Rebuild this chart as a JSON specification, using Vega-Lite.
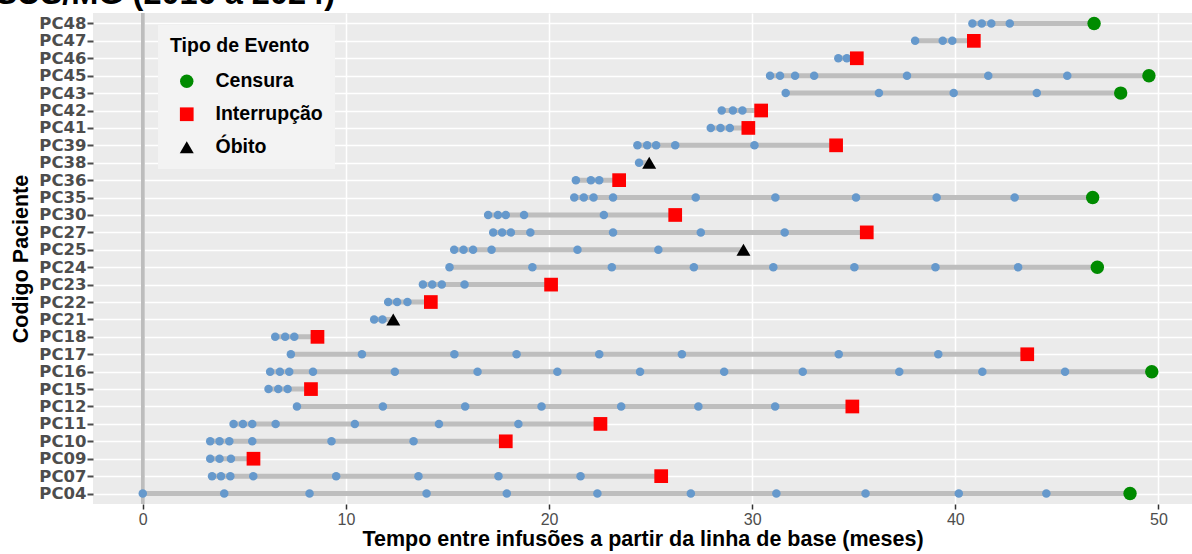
{
  "$schema": "https://vega.github.io/schema/vega-lite/v6.json",
  "width": 1099,
  "height": 491,
  "autosize": {"type": "none"},
  "padding": {"left": 93, "top": 13, "right": 0, "bottom": 50},
  "background": "white",
  "title": {
    "text": "SUS/MG (2016 a 2024)",
    "anchor": "end",
    "frame": "group",
    "dx": -857,
    "offset": 0,
    "dy": 25,
    "baseline": "alphabetic",
    "font": "Liberation Sans",
    "fontSize": 32.5,
    "fontWeight": "bold",
    "color": "#000000"
  },
  "data": {
    "values": [
      {"paciente": "PC48", "tempo": 40.84, "evento": "Infusão"},
      {"paciente": "PC48", "tempo": 41.30, "evento": "Infusão"},
      {"paciente": "PC48", "tempo": 41.77, "evento": "Infusão"},
      {"paciente": "PC48", "tempo": 42.68, "evento": "Infusão"},
      {"paciente": "PC48", "tempo": 46.83, "evento": "Censura"},
      {"paciente": "PC47", "tempo": 38.02, "evento": "Infusão"},
      {"paciente": "PC47", "tempo": 39.38, "evento": "Infusão"},
      {"paciente": "PC47", "tempo": 39.85, "evento": "Infusão"},
      {"paciente": "PC47", "tempo": 40.91, "evento": "Interrupção"},
      {"paciente": "PC46", "tempo": 34.24, "evento": "Infusão"},
      {"paciente": "PC46", "tempo": 34.66, "evento": "Infusão"},
      {"paciente": "PC46", "tempo": 35.15, "evento": "Interrupção"},
      {"paciente": "PC45", "tempo": 30.88, "evento": "Infusão"},
      {"paciente": "PC45", "tempo": 31.37, "evento": "Infusão"},
      {"paciente": "PC45", "tempo": 32.11, "evento": "Infusão"},
      {"paciente": "PC45", "tempo": 33.05, "evento": "Infusão"},
      {"paciente": "PC45", "tempo": 37.62, "evento": "Infusão"},
      {"paciente": "PC45", "tempo": 41.62, "evento": "Infusão"},
      {"paciente": "PC45", "tempo": 45.51, "evento": "Infusão"},
      {"paciente": "PC45", "tempo": 49.53, "evento": "Censura"},
      {"paciente": "PC43", "tempo": 31.65, "evento": "Infusão"},
      {"paciente": "PC43", "tempo": 36.24, "evento": "Infusão"},
      {"paciente": "PC43", "tempo": 39.92, "evento": "Infusão"},
      {"paciente": "PC43", "tempo": 44.01, "evento": "Infusão"},
      {"paciente": "PC43", "tempo": 48.14, "evento": "Censura"},
      {"paciente": "PC42", "tempo": 28.50, "evento": "Infusão"},
      {"paciente": "PC42", "tempo": 29.05, "evento": "Infusão"},
      {"paciente": "PC42", "tempo": 29.52, "evento": "Infusão"},
      {"paciente": "PC42", "tempo": 30.44, "evento": "Interrupção"},
      {"paciente": "PC41", "tempo": 27.96, "evento": "Infusão"},
      {"paciente": "PC41", "tempo": 28.44, "evento": "Infusão"},
      {"paciente": "PC41", "tempo": 28.90, "evento": "Infusão"},
      {"paciente": "PC41", "tempo": 29.81, "evento": "Interrupção"},
      {"paciente": "PC39", "tempo": 24.35, "evento": "Infusão"},
      {"paciente": "PC39", "tempo": 24.83, "evento": "Infusão"},
      {"paciente": "PC39", "tempo": 25.27, "evento": "Infusão"},
      {"paciente": "PC39", "tempo": 26.21, "evento": "Infusão"},
      {"paciente": "PC39", "tempo": 30.11, "evento": "Infusão"},
      {"paciente": "PC39", "tempo": 34.13, "evento": "Interrupção"},
      {"paciente": "PC38", "tempo": 24.43, "evento": "Infusão"},
      {"paciente": "PC38", "tempo": 24.93, "evento": "Óbito"},
      {"paciente": "PC36", "tempo": 21.32, "evento": "Infusão"},
      {"paciente": "PC36", "tempo": 22.06, "evento": "Infusão"},
      {"paciente": "PC36", "tempo": 22.47, "evento": "Infusão"},
      {"paciente": "PC36", "tempo": 23.45, "evento": "Interrupção"},
      {"paciente": "PC35", "tempo": 21.24, "evento": "Infusão"},
      {"paciente": "PC35", "tempo": 21.71, "evento": "Infusão"},
      {"paciente": "PC35", "tempo": 22.19, "evento": "Infusão"},
      {"paciente": "PC35", "tempo": 23.15, "evento": "Infusão"},
      {"paciente": "PC35", "tempo": 27.22, "evento": "Infusão"},
      {"paciente": "PC35", "tempo": 31.14, "evento": "Infusão"},
      {"paciente": "PC35", "tempo": 35.11, "evento": "Infusão"},
      {"paciente": "PC35", "tempo": 39.08, "evento": "Infusão"},
      {"paciente": "PC35", "tempo": 42.92, "evento": "Infusão"},
      {"paciente": "PC35", "tempo": 46.76, "evento": "Censura"},
      {"paciente": "PC30", "tempo": 17.00, "evento": "Infusão"},
      {"paciente": "PC30", "tempo": 17.48, "evento": "Infusão"},
      {"paciente": "PC30", "tempo": 17.87, "evento": "Infusão"},
      {"paciente": "PC30", "tempo": 18.77, "evento": "Infusão"},
      {"paciente": "PC30", "tempo": 22.70, "evento": "Infusão"},
      {"paciente": "PC30", "tempo": 26.21, "evento": "Interrupção"},
      {"paciente": "PC27", "tempo": 17.25, "evento": "Infusão"},
      {"paciente": "PC27", "tempo": 17.69, "evento": "Infusão"},
      {"paciente": "PC27", "tempo": 18.12, "evento": "Infusão"},
      {"paciente": "PC27", "tempo": 19.08, "evento": "Infusão"},
      {"paciente": "PC27", "tempo": 23.15, "evento": "Infusão"},
      {"paciente": "PC27", "tempo": 27.47, "evento": "Infusão"},
      {"paciente": "PC27", "tempo": 31.60, "evento": "Infusão"},
      {"paciente": "PC27", "tempo": 35.64, "evento": "Interrupção"},
      {"paciente": "PC25", "tempo": 15.33, "evento": "Infusão"},
      {"paciente": "PC25", "tempo": 15.79, "evento": "Infusão"},
      {"paciente": "PC25", "tempo": 16.26, "evento": "Infusão"},
      {"paciente": "PC25", "tempo": 17.17, "evento": "Infusão"},
      {"paciente": "PC25", "tempo": 21.40, "evento": "Infusão"},
      {"paciente": "PC25", "tempo": 25.38, "evento": "Infusão"},
      {"paciente": "PC25", "tempo": 29.57, "evento": "Óbito"},
      {"paciente": "PC24", "tempo": 15.10, "evento": "Infusão"},
      {"paciente": "PC24", "tempo": 19.18, "evento": "Infusão"},
      {"paciente": "PC24", "tempo": 23.09, "evento": "Infusão"},
      {"paciente": "PC24", "tempo": 27.13, "evento": "Infusão"},
      {"paciente": "PC24", "tempo": 31.04, "evento": "Infusão"},
      {"paciente": "PC24", "tempo": 35.03, "evento": "Infusão"},
      {"paciente": "PC24", "tempo": 39.02, "evento": "Infusão"},
      {"paciente": "PC24", "tempo": 43.09, "evento": "Infusão"},
      {"paciente": "PC24", "tempo": 46.99, "evento": "Censura"},
      {"paciente": "PC23", "tempo": 13.79, "evento": "Infusão"},
      {"paciente": "PC23", "tempo": 14.25, "evento": "Infusão"},
      {"paciente": "PC23", "tempo": 14.72, "evento": "Infusão"},
      {"paciente": "PC23", "tempo": 15.84, "evento": "Infusão"},
      {"paciente": "PC23", "tempo": 20.10, "evento": "Interrupção"},
      {"paciente": "PC22", "tempo": 12.08, "evento": "Infusão"},
      {"paciente": "PC22", "tempo": 12.52, "evento": "Infusão"},
      {"paciente": "PC22", "tempo": 13.03, "evento": "Infusão"},
      {"paciente": "PC22", "tempo": 14.18, "evento": "Interrupção"},
      {"paciente": "PC21", "tempo": 11.39, "evento": "Infusão"},
      {"paciente": "PC21", "tempo": 11.80, "evento": "Infusão"},
      {"paciente": "PC21", "tempo": 12.33, "evento": "Óbito"},
      {"paciente": "PC18", "tempo": 6.52, "evento": "Infusão"},
      {"paciente": "PC18", "tempo": 7.01, "evento": "Infusão"},
      {"paciente": "PC18", "tempo": 7.46, "evento": "Infusão"},
      {"paciente": "PC18", "tempo": 8.60, "evento": "Interrupção"},
      {"paciente": "PC17", "tempo": 7.29, "evento": "Infusão"},
      {"paciente": "PC17", "tempo": 10.79, "evento": "Infusão"},
      {"paciente": "PC17", "tempo": 15.34, "evento": "Infusão"},
      {"paciente": "PC17", "tempo": 18.40, "evento": "Infusão"},
      {"paciente": "PC17", "tempo": 22.47, "evento": "Infusão"},
      {"paciente": "PC17", "tempo": 26.54, "evento": "Infusão"},
      {"paciente": "PC17", "tempo": 34.26, "evento": "Infusão"},
      {"paciente": "PC17", "tempo": 39.16, "evento": "Infusão"},
      {"paciente": "PC17", "tempo": 43.54, "evento": "Interrupção"},
      {"paciente": "PC16", "tempo": 6.27, "evento": "Infusão"},
      {"paciente": "PC16", "tempo": 6.75, "evento": "Infusão"},
      {"paciente": "PC16", "tempo": 7.21, "evento": "Infusão"},
      {"paciente": "PC16", "tempo": 8.38, "evento": "Infusão"},
      {"paciente": "PC16", "tempo": 12.41, "evento": "Infusão"},
      {"paciente": "PC16", "tempo": 16.48, "evento": "Infusão"},
      {"paciente": "PC16", "tempo": 20.41, "evento": "Infusão"},
      {"paciente": "PC16", "tempo": 24.48, "evento": "Infusão"},
      {"paciente": "PC16", "tempo": 28.62, "evento": "Infusão"},
      {"paciente": "PC16", "tempo": 32.49, "evento": "Infusão"},
      {"paciente": "PC16", "tempo": 37.24, "evento": "Infusão"},
      {"paciente": "PC16", "tempo": 41.33, "evento": "Infusão"},
      {"paciente": "PC16", "tempo": 45.40, "evento": "Infusão"},
      {"paciente": "PC16", "tempo": 49.67, "evento": "Censura"},
      {"paciente": "PC15", "tempo": 6.19, "evento": "Infusão"},
      {"paciente": "PC15", "tempo": 6.67, "evento": "Infusão"},
      {"paciente": "PC15", "tempo": 7.13, "evento": "Infusão"},
      {"paciente": "PC15", "tempo": 8.28, "evento": "Interrupção"},
      {"paciente": "PC12", "tempo": 7.59, "evento": "Infusão"},
      {"paciente": "PC12", "tempo": 11.82, "evento": "Infusão"},
      {"paciente": "PC12", "tempo": 15.87, "evento": "Infusão"},
      {"paciente": "PC12", "tempo": 19.63, "evento": "Infusão"},
      {"paciente": "PC12", "tempo": 23.55, "evento": "Infusão"},
      {"paciente": "PC12", "tempo": 27.35, "evento": "Infusão"},
      {"paciente": "PC12", "tempo": 31.13, "evento": "Infusão"},
      {"paciente": "PC12", "tempo": 34.93, "evento": "Interrupção"},
      {"paciente": "PC11", "tempo": 4.47, "evento": "Infusão"},
      {"paciente": "PC11", "tempo": 4.93, "evento": "Infusão"},
      {"paciente": "PC11", "tempo": 5.39, "evento": "Infusão"},
      {"paciente": "PC11", "tempo": 6.54, "evento": "Infusão"},
      {"paciente": "PC11", "tempo": 10.44, "evento": "Infusão"},
      {"paciente": "PC11", "tempo": 14.58, "evento": "Infusão"},
      {"paciente": "PC11", "tempo": 18.49, "evento": "Infusão"},
      {"paciente": "PC11", "tempo": 22.53, "evento": "Interrupção"},
      {"paciente": "PC10", "tempo": 3.32, "evento": "Infusão"},
      {"paciente": "PC10", "tempo": 3.78, "evento": "Infusão"},
      {"paciente": "PC10", "tempo": 4.26, "evento": "Infusão"},
      {"paciente": "PC10", "tempo": 5.39, "evento": "Infusão"},
      {"paciente": "PC10", "tempo": 9.29, "evento": "Infusão"},
      {"paciente": "PC10", "tempo": 13.33, "evento": "Infusão"},
      {"paciente": "PC10", "tempo": 17.87, "evento": "Interrupção"},
      {"paciente": "PC09", "tempo": 3.32, "evento": "Infusão"},
      {"paciente": "PC09", "tempo": 3.78, "evento": "Infusão"},
      {"paciente": "PC09", "tempo": 4.34, "evento": "Infusão"},
      {"paciente": "PC09", "tempo": 5.45, "evento": "Interrupção"},
      {"paciente": "PC07", "tempo": 3.41, "evento": "Infusão"},
      {"paciente": "PC07", "tempo": 3.85, "evento": "Infusão"},
      {"paciente": "PC07", "tempo": 4.31, "evento": "Infusão"},
      {"paciente": "PC07", "tempo": 5.44, "evento": "Infusão"},
      {"paciente": "PC07", "tempo": 9.52, "evento": "Infusão"},
      {"paciente": "PC07", "tempo": 13.57, "evento": "Infusão"},
      {"paciente": "PC07", "tempo": 17.51, "evento": "Infusão"},
      {"paciente": "PC07", "tempo": 21.55, "evento": "Infusão"},
      {"paciente": "PC07", "tempo": 25.52, "evento": "Interrupção"},
      {"paciente": "PC04", "tempo": 0.00, "evento": "Infusão"},
      {"paciente": "PC04", "tempo": 4.01, "evento": "Infusão"},
      {"paciente": "PC04", "tempo": 8.21, "evento": "Infusão"},
      {"paciente": "PC04", "tempo": 13.97, "evento": "Infusão"},
      {"paciente": "PC04", "tempo": 17.92, "evento": "Infusão"},
      {"paciente": "PC04", "tempo": 22.38, "evento": "Infusão"},
      {"paciente": "PC04", "tempo": 26.98, "evento": "Infusão"},
      {"paciente": "PC04", "tempo": 31.19, "evento": "Infusão"},
      {"paciente": "PC04", "tempo": 35.58, "evento": "Infusão"},
      {"paciente": "PC04", "tempo": 40.17, "evento": "Infusão"},
      {"paciente": "PC04", "tempo": 44.48, "evento": "Infusão"},
      {"paciente": "PC04", "tempo": 48.60, "evento": "Censura"}
    ]
  },
  "encoding": {
    "y": {
      "field": "paciente",
      "type": "nominal",
      "sort": "descending",
      "scale": {"type": "point", "padding": 0.6},
      "axis": {
        "title": "Codigo Paciente",
        "labelFont": "DejaVu Sans",
        "labelFontWeight": "bold",
        "labelFontSize": 16.5,
        "labelColor": "#4D4D4D",
        "labelPadding": 1,
        "tickSize": 6,
        "tickWidth": 2,
        "tickColor": "#4D4D4D",
        "titlePadding": 6
      }
    }
  },
  "layer": [
    {
      "mark": {"type": "rule", "color": "#BDBDBD", "strokeWidth": 2.5},
      "encoding": {"x": {"datum": 0, "type": "quantitative"}, "y": null}
    },
    {
      "transform": [
        {"aggregate": [
          {"op": "min", "field": "tempo", "as": "inicio"},
          {"op": "max", "field": "tempo", "as": "fim"}
        ], "groupby": ["paciente"]}
      ],
      "mark": {"type": "rule", "color": "#BEBEBE", "strokeWidth": 5},
      "encoding": {
        "x": {
          "field": "inicio",
          "type": "quantitative",
          "scale": {"domain": [-2.45, 51.65], "nice": false, "zero": false},
          "axis": {
            "title": "Tempo entre infusões a partir da linha de base (meses)",
            "values": [0, 10, 20, 30, 40, 50]
          }
        },
        "x2": {"field": "fim"}
      }
    },
    {
      "transform": [{"filter": "datum.evento === 'Infusão'"}],
      "mark": {"type": "point", "filled": true, "opacity": 1, "color": "#6699CC", "size": 72},
      "encoding": {"x": {"field": "tempo", "type": "quantitative"}}
    },
    {
      "transform": [{"filter": "datum.evento !== 'Infusão'"}],
      "mark": {"type": "point", "filled": true, "opacity": 1},
      "encoding": {
        "x": {"field": "tempo", "type": "quantitative"},
        "color": {
          "field": "evento",
          "type": "nominal",
          "title": "Tipo de Evento",
          "scale": {"domain": ["Censura", "Interrupção", "Óbito"], "range": ["#008B00", "#FF0000", "#000000"]}
        },
        "shape": {
          "field": "evento",
          "type": "nominal",
          "title": "Tipo de Evento",
          "scale": {"domain": ["Censura", "Interrupção", "Óbito"], "range": ["circle", "square", "triangle-up"]}
        },
        "size": {
          "field": "evento",
          "type": "nominal",
          "title": "Tipo de Evento",
          "scale": {"domain": ["Censura", "Interrupção", "Óbito"], "range": [180, 196, 300]}
        }
      }
    }
  ],
  "config": {
    "font": "Liberation Sans",
    "view": {"fill": "#EBEBEB", "stroke": null},
    "axis": {
      "domain": false,
      "grid": true,
      "gridColor": "#FFFFFF",
      "gridWidth": 1.5,
      "gridOpacity": 1,
      "titleFont": "Liberation Sans",
      "titleFontSize": 21.5,
      "titleFontWeight": "bold",
      "titleColor": "#000000"
    },
    "axisX": {
      "labelFont": "Liberation Sans",
      "labelFontSize": 16,
      "labelColor": "#4D4D4D",
      "labelPadding": 2,
      "tickColor": "#333333",
      "tickSize": 5,
      "tickWidth": 1.5,
      "titlePadding": 1
    },
    "legend": {
      "orient": "none",
      "legendX": 65,
      "legendY": 12,
      "fillColor": "#F3F3F3",
      "padding": 12,
      "titleFont": "Liberation Sans",
      "titleFontSize": 19.5,
      "titleFontWeight": "bold",
      "titleColor": "#000000",
      "titlePadding": 15,
      "labelFont": "Liberation Sans",
      "labelFontSize": 19.5,
      "labelFontWeight": "bold",
      "labelColor": "#000000",
      "labelOffset": 19,
      "symbolOffset": 7,
      "rowPadding": 12,
      "symbolStrokeWidth": 0
    }
  }
}
